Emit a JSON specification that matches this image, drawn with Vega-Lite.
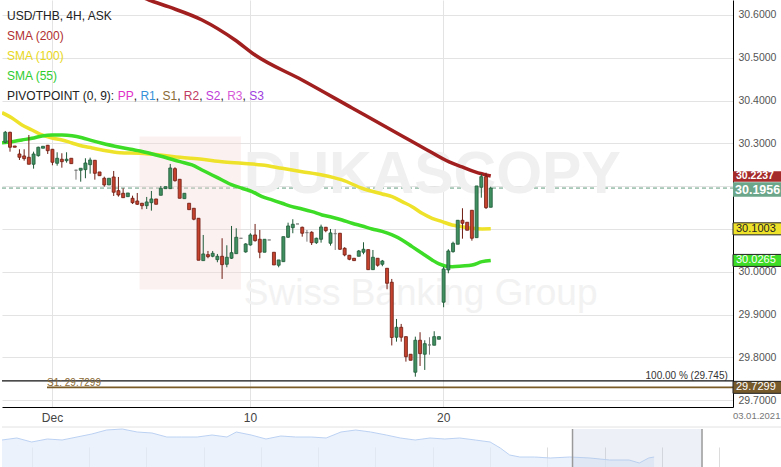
{
  "$schema": "https://vega.github.io/schema/vega-lite/v6.json",
  "padding": 0,
  "spacing": 20,
  "bounds": "flush",
  "background": "#ffffff",
  "config": {
    "font": "Liberation Sans",
    "view": {"stroke": null},
    "text": {"font": "Liberation Sans"}
  },
  "datasets": {
    "candles": [
      {"i":0,"o":30.3026,"h":30.3290,"l":30.3002,"c":30.3259,"d":"up"},
      {"i":1,"o":30.3259,"h":30.3273,"l":30.2806,"c":30.2909,"d":"down"},
      {"i":2,"o":30.2939,"h":30.2939,"l":30.2909,"c":30.2909,"d":"down"},
      {"i":3,"o":30.2752,"h":30.2862,"l":30.2612,"c":30.2675,"d":"down"},
      {"i":4,"o":30.2706,"h":30.2862,"l":30.2596,"c":30.2643,"d":"down"},
      {"i":5,"o":30.2675,"h":30.3196,"l":30.2512,"c":30.2512,"d":"down"},
      {"i":6,"o":30.2512,"h":30.2806,"l":30.2409,"c":30.2752,"d":"up"},
      {"i":7,"o":30.2713,"h":30.2923,"l":30.2689,"c":30.2909,"d":"up"},
      {"i":8,"o":30.2886,"h":30.2932,"l":30.2886,"c":30.2932,"d":"up"},
      {"i":9,"o":30.2956,"h":30.2963,"l":30.2752,"c":30.2829,"d":"down"},
      {"i":10,"o":30.2862,"h":30.2869,"l":30.2488,"c":30.2558,"d":"down"},
      {"i":11,"o":30.2535,"h":30.2792,"l":30.2479,"c":30.2652,"d":"up"},
      {"i":12,"o":30.2629,"h":30.2769,"l":30.2432,"c":30.2572,"d":"down"},
      {"i":13,"o":30.2596,"h":30.2792,"l":30.2549,"c":30.2629,"d":"up"},
      {"i":14,"o":30.2652,"h":30.2652,"l":30.2526,"c":30.2526,"d":"down"},
      {"i":15,"o":30.2372,"h":30.2386,"l":30.2152,"c":30.2372,"d":"flat"},
      {"i":16,"o":30.2372,"h":30.2418,"l":30.2105,"c":30.2418,"d":"up"},
      {"i":17,"o":30.2386,"h":30.2652,"l":30.2185,"c":30.2542,"d":"up"},
      {"i":18,"o":30.2502,"h":30.2666,"l":30.2292,"c":30.2612,"d":"up"},
      {"i":19,"o":30.2605,"h":30.2612,"l":30.2152,"c":30.2301,"d":"down"},
      {"i":20,"o":30.2332,"h":30.2332,"l":30.2245,"c":30.2245,"d":"down"},
      {"i":21,"o":30.2185,"h":30.2222,"l":30.1988,"c":30.2028,"d":"down"},
      {"i":22,"o":30.2028,"h":30.2185,"l":30.2028,"c":30.2185,"d":"up"},
      {"i":23,"o":30.2215,"h":30.2355,"l":30.1771,"c":30.1858,"d":"down"},
      {"i":24,"o":30.1895,"h":30.2215,"l":30.1755,"c":30.1794,"d":"down"},
      {"i":25,"o":30.1834,"h":30.1951,"l":30.1731,"c":30.1731,"d":"down"},
      {"i":26,"o":30.1755,"h":30.1841,"l":30.1755,"c":30.1841,"d":"up"},
      {"i":27,"o":30.1717,"h":30.1778,"l":30.1584,"c":30.1615,"d":"down"},
      {"i":28,"o":30.1654,"h":30.1841,"l":30.1561,"c":30.1577,"d":"down"},
      {"i":29,"o":30.1601,"h":30.1608,"l":30.1460,"c":30.1544,"d":"down"},
      {"i":30,"o":30.1544,"h":30.1748,"l":30.1467,"c":30.1631,"d":"up"},
      {"i":31,"o":30.1615,"h":30.1888,"l":30.1428,"c":30.1701,"d":"up"},
      {"i":32,"o":30.1701,"h":30.1701,"l":30.1577,"c":30.1577,"d":"down"},
      {"i":33,"o":30.1787,"h":30.2005,"l":30.1787,"c":30.1951,"d":"up"},
      {"i":34,"o":30.1942,"h":30.1988,"l":30.1942,"c":30.1988,"d":"up"},
      {"i":35,"o":30.1942,"h":30.2519,"l":30.1942,"c":30.2425,"d":"up"},
      {"i":36,"o":30.2409,"h":30.2442,"l":30.2105,"c":30.2129,"d":"down"},
      {"i":37,"o":30.2161,"h":30.2161,"l":30.1717,"c":30.1717,"d":"down"},
      {"i":38,"o":30.1708,"h":30.1834,"l":30.1708,"c":30.1834,"d":"up"},
      {"i":39,"o":30.1601,"h":30.1601,"l":30.1451,"c":30.1451,"d":"down"},
      {"i":40,"o":30.1484,"h":30.1484,"l":30.1203,"c":30.1227,"d":"down"},
      {"i":41,"o":30.1250,"h":30.1250,"l":30.0269,"c":30.0269,"d":"down"},
      {"i":42,"o":30.0260,"h":30.0860,"l":30.0260,"c":30.0416,"d":"up"},
      {"i":43,"o":30.0400,"h":30.0486,"l":30.0316,"c":30.0353,"d":"down"},
      {"i":44,"o":30.0362,"h":30.0486,"l":30.0339,"c":30.0432,"d":"up"},
      {"i":45,"o":30.0283,"h":30.0416,"l":30.0222,"c":30.0362,"d":"up"},
      {"i":46,"o":30.0362,"h":30.0783,"l":29.9832,"c":30.0166,"d":"down"},
      {"i":47,"o":30.0175,"h":30.0619,"l":30.0105,"c":30.0339,"d":"up"},
      {"i":48,"o":30.0316,"h":30.1070,"l":30.0299,"c":30.0446,"d":"up"},
      {"i":49,"o":30.0423,"h":30.1016,"l":30.0423,"c":30.0806,"d":"up"},
      {"i":50,"o":30.0783,"h":30.0783,"l":30.0783,"c":30.0783,"d":"flat"},
      {"i":51,"o":30.0463,"h":30.0666,"l":30.0446,"c":30.0650,"d":"up"},
      {"i":52,"o":30.0626,"h":30.0900,"l":30.0610,"c":30.0860,"d":"up"},
      {"i":53,"o":30.0860,"h":30.1117,"l":30.0703,"c":30.0727,"d":"down"},
      {"i":54,"o":30.0759,"h":30.0977,"l":30.0316,"c":30.0456,"d":"down"},
      {"i":55,"o":30.0456,"h":30.0759,"l":30.0456,"c":30.0759,"d":"up"},
      {"i":56,"o":30.0743,"h":30.0743,"l":30.0743,"c":30.0743,"d":"flat"},
      {"i":57,"o":30.0456,"h":30.0456,"l":30.0159,"c":30.0159,"d":"down"},
      {"i":58,"o":30.0152,"h":30.0276,"l":30.0105,"c":30.0276,"d":"up"},
      {"i":59,"o":30.0236,"h":30.0820,"l":30.0236,"c":30.0820,"d":"up"},
      {"i":60,"o":30.0806,"h":30.1147,"l":30.0790,"c":30.1070,"d":"up"},
      {"i":61,"o":30.1030,"h":30.1227,"l":30.0900,"c":30.1110,"d":"up"},
      {"i":62,"o":30.1117,"h":30.1117,"l":30.1117,"c":30.1117,"d":"flat"},
      {"i":63,"o":30.1040,"h":30.1054,"l":30.0820,"c":30.0900,"d":"down"},
      {"i":64,"o":30.0914,"h":30.0977,"l":30.0703,"c":30.0914,"d":"flat"},
      {"i":65,"o":30.0923,"h":30.0946,"l":30.0626,"c":30.0680,"d":"down"},
      {"i":66,"o":30.0680,"h":30.0797,"l":30.0650,"c":30.0783,"d":"up"},
      {"i":67,"o":30.0759,"h":30.1101,"l":30.0680,"c":30.1047,"d":"up"},
      {"i":68,"o":30.1040,"h":30.1047,"l":30.0923,"c":30.0960,"d":"down"},
      {"i":69,"o":30.0666,"h":30.1000,"l":30.0610,"c":30.0907,"d":"up"},
      {"i":70,"o":30.0890,"h":30.0993,"l":30.0509,"c":30.0890,"d":"flat"},
      {"i":71,"o":30.0900,"h":30.0907,"l":30.0509,"c":30.0526,"d":"down"},
      {"i":72,"o":30.0549,"h":30.0573,"l":30.0362,"c":30.0393,"d":"down"},
      {"i":73,"o":30.0386,"h":30.0393,"l":30.0269,"c":30.0292,"d":"down"},
      {"i":74,"o":30.0316,"h":30.0316,"l":30.0260,"c":30.0260,"d":"down"},
      {"i":75,"o":30.0362,"h":30.0509,"l":30.0362,"c":30.0486,"d":"up"},
      {"i":76,"o":30.0456,"h":30.0689,"l":30.0409,"c":30.0526,"d":"up"},
      {"i":77,"o":30.0517,"h":30.0517,"l":30.0049,"c":30.0049,"d":"down"},
      {"i":78,"o":30.0049,"h":30.0509,"l":30.0049,"c":30.0339,"d":"up"},
      {"i":79,"o":30.0316,"h":30.0316,"l":30.0119,"c":30.0152,"d":"down"},
      {"i":80,"o":30.0175,"h":30.0276,"l":30.0129,"c":30.0252,"d":"up"},
      {"i":81,"o":30.0082,"h":30.0082,"l":29.9591,"c":29.9731,"d":"down"},
      {"i":82,"o":29.9755,"h":29.9832,"l":29.8278,"c":29.8465,"d":"down"},
      {"i":83,"o":29.8470,"h":29.8897,"l":29.8367,"c":29.8703,"d":"up"},
      {"i":84,"o":29.8703,"h":29.8781,"l":29.8367,"c":29.8470,"d":"down"},
      {"i":85,"o":29.8484,"h":29.8484,"l":29.7900,"c":29.8016,"d":"down"},
      {"i":86,"o":29.8073,"h":29.8073,"l":29.7932,"c":29.7932,"d":"down"},
      {"i":87,"o":29.7652,"h":29.8484,"l":29.7549,"c":29.8400,"d":"up"},
      {"i":88,"o":29.8400,"h":29.8587,"l":29.7799,"c":29.8087,"d":"down"},
      {"i":89,"o":29.8073,"h":29.8400,"l":29.7706,"c":29.8320,"d":"up"},
      {"i":90,"o":29.8290,"h":29.8470,"l":29.8063,"c":29.8290,"d":"flat"},
      {"i":91,"o":29.8283,"h":29.8610,"l":29.8283,"c":29.8484,"d":"up"},
      {"i":92,"o":29.8423,"h":29.8484,"l":29.8423,"c":29.8484,"d":"up"},
      {"i":93,"o":29.9288,"h":30.0119,"l":29.9171,"c":30.0066,"d":"up"},
      {"i":94,"o":30.0042,"h":30.0526,"l":29.9965,"c":30.0486,"d":"up"},
      {"i":95,"o":30.0470,"h":30.0703,"l":30.0446,"c":30.0666,"d":"up"},
      {"i":96,"o":30.0643,"h":30.1203,"l":30.0643,"c":30.1203,"d":"up"},
      {"i":97,"o":30.1203,"h":30.1484,"l":30.0773,"c":30.1133,"d":"down"},
      {"i":98,"o":30.1157,"h":30.1157,"l":30.0970,"c":30.0970,"d":"down"},
      {"i":99,"o":30.1437,"h":30.1437,"l":30.0727,"c":30.0783,"d":"down"},
      {"i":100,"o":30.0797,"h":30.2005,"l":30.0797,"c":30.2005,"d":"up"},
      {"i":101,"o":30.1974,"h":30.2285,"l":30.1731,"c":30.2222,"d":"up"},
      {"i":102,"o":30.2222,"h":30.2316,"l":30.1467,"c":30.1498,"d":"down"},
      {"i":103,"o":30.1507,"h":30.1988,"l":30.1507,"c":30.1956,"d":"up"}
    ],
    "sma200": [
      {"i":24.77,"v":30.6631},{"i":30.5,"v":30.6350},{"i":34.74,"v":30.6187},{"i":41.74,"v":30.5883},
      {"i":48.75,"v":30.5416},{"i":52.99,"v":30.5065},{"i":62.97,"v":30.4481},{"i":73.58,"v":30.3827},
      {"i":84.19,"v":30.3173},{"i":89.5,"v":30.2846},{"i":94.17,"v":30.2566},{"i":96.92,"v":30.2449},
      {"i":99.68,"v":30.2332},{"i":103,"v":30.2237}
    ],
    "sma100": [
      {"i":-0.7,"v":30.3717},{"i":1.42,"v":30.3593},{"i":3.54,"v":30.3430},{"i":5.67,"v":30.3313},
      {"i":7.79,"v":30.3196},{"i":9.91,"v":30.3126},{"i":12.03,"v":30.3080},{"i":14.16,"v":30.3009},
      {"i":16.28,"v":30.2939},{"i":18.4,"v":30.2893},{"i":20.52,"v":30.2846},{"i":24.34,"v":30.2783},
      {"i":28.59,"v":30.2769},{"i":32.83,"v":30.2729},{"i":37.08,"v":30.2675},{"i":41.74,"v":30.2629},
      {"i":45.99,"v":30.2572},{"i":50.23,"v":30.2535},{"i":54.48,"v":30.2495},{"i":58.72,"v":30.2418},
      {"i":62.97,"v":30.2339},{"i":67.21,"v":30.2262},{"i":71.46,"v":30.2145},{"i":75.7,"v":30.1951},
      {"i":79.95,"v":30.1818},{"i":82.07,"v":30.1755},{"i":84.19,"v":30.1638},{"i":86.31,"v":30.1521},
      {"i":88.43,"v":30.1367},{"i":90.56,"v":30.1250},{"i":92.68,"v":30.1171},{"i":94.8,"v":30.1094},
      {"i":96.92,"v":30.1054},{"i":99.05,"v":30.1016},{"i":101.17,"v":30.1000},{"i":103,"v":30.1003}
    ],
    "sma55": [
      {"i":-0.7,"v":30.3016},{"i":1.42,"v":30.3040},{"i":3.54,"v":30.3080},{"i":5.67,"v":30.3119},
      {"i":7.79,"v":30.3173},{"i":9.91,"v":30.3196},{"i":12.03,"v":30.3196},{"i":14.16,"v":30.3180},
      {"i":16.28,"v":30.3133},{"i":18.4,"v":30.3063},{"i":20.52,"v":30.3002},{"i":24.34,"v":30.2909},
      {"i":28.59,"v":30.2822},{"i":32.83,"v":30.2706},{"i":37.08,"v":30.2572},{"i":39.62,"v":30.2495},
      {"i":41.74,"v":30.2379},{"i":43.86,"v":30.2262},{"i":45.99,"v":30.2145},{"i":48.11,"v":30.2028},
      {"i":50.23,"v":30.1951},{"i":52.36,"v":30.1872},{"i":54.48,"v":30.1755},{"i":56.6,"v":30.1678},
      {"i":58.72,"v":30.1601},{"i":60.84,"v":30.1521},{"i":62.97,"v":30.1467},{"i":65.09,"v":30.1404},
      {"i":67.21,"v":30.1327},{"i":69.33,"v":30.1273},{"i":71.46,"v":30.1210},{"i":73.58,"v":30.1133},
      {"i":75.7,"v":30.1070},{"i":77.82,"v":30.1000},{"i":79.95,"v":30.0942},{"i":82.07,"v":30.0860},
      {"i":84.19,"v":30.0743},{"i":86.31,"v":30.0587},{"i":88.43,"v":30.0432},{"i":90.56,"v":30.0276},
      {"i":92.04,"v":30.0182},{"i":93.32,"v":30.0136},{"i":94.8,"v":30.0119},{"i":96.92,"v":30.0136},
      {"i":99.05,"v":30.0159},{"i":101.17,"v":30.0236},{"i":103,"v":30.0265}
    ],
    "nav": [
      {"t":0,"v":27},{"t":1.9,"v":29},{"t":3.8,"v":25},{"t":5.8,"v":28},{"t":7.7,"v":27},{"t":9.6,"v":30},
      {"t":11.5,"v":33},{"t":13.4,"v":37},{"t":15.4,"v":38},{"t":17.3,"v":35},{"t":19.2,"v":34},{"t":21.1,"v":30},
      {"t":23.0,"v":30},{"t":25.0,"v":30},{"t":26.9,"v":32},{"t":28.8,"v":30},{"t":30.0,"v":35},{"t":31.9,"v":32},
      {"t":33.8,"v":28},{"t":35.7,"v":31},{"t":37.6,"v":30},{"t":39.6,"v":30},{"t":41.5,"v":29},{"t":43.4,"v":35},
      {"t":45.3,"v":37},{"t":47.2,"v":35},{"t":49.2,"v":32},{"t":51.0,"v":29},{"t":52.9,"v":27},{"t":54.8,"v":29},
      {"t":56.7,"v":28},{"t":58.6,"v":29},{"t":60.6,"v":27},{"t":62.5,"v":25},{"t":63.8,"v":19},{"t":65.0,"v":12},
      {"t":66.3,"v":10},{"t":68.2,"v":10},{"t":70.2,"v":9},{"t":72.7,"v":10},{"t":75.3,"v":9},{"t":77.8,"v":7},
      {"t":80.3,"v":7},{"t":81.6,"v":4},{"t":82.8,"v":9},{"t":83.5,"v":10}
    ]
  },
  "vconcat": [
    {
      "width": 731,
      "height": 407,
      "layer": [
        {
          "data": {"values": [{"p": 30.1956}]},
          "mark": {"type": "rule", "color": "#5f9c7c", "strokeWidth": 1, "strokeDash": [4, 3]},
          "encoding": {
            "x": {"datum": -0.7, "type": "quantitative", "scale": {"domain": [-0.7, 154.4], "nice": false, "zero": false, "padding": 0},
              "axis": {"values": [9.91, 51.9, 92.9], "labelExpr": "datum.value < 30 ? 'Dec' : (datum.value < 70 ? '10' : '20')", "grid": true, "gridColor": "#e3e3e3", "ticks": false, "domainColor": "#000000", "domainWidth": 1, "labelFontSize": 12, "labelColor": "#444444", "labelPadding": 5, "title": null}},
            "x2": {"datum": 154.4},
            "y": {"field": "p", "type": "quantitative", "scale": {"domain": [29.684, 30.635], "nice": false, "zero": false, "padding": 0},
              "axis": {"orient": "right", "values": [29.7, 29.8, 29.9, 30.0, 30.1, 30.2, 30.3, 30.4, 30.5, 30.6], "format": ".4f", "labelExpr": "abs(datum.value - 30.1) < 0.001 || abs(datum.value - 30.2) < 0.001 ? '' : datum.label", "grid": true, "gridColor": "#e3e3e3", "ticks": false, "domainColor": "#000000", "domainWidth": 1, "labelFontSize": 10.5, "labelColor": "#555555", "labelPadding": 5, "title": null}}
          }
        },
        {
          "data": {"values": [{"a": 1}]},
          "mark": {"type": "rect", "color": "#f6d6d6", "opacity": 0.35},
          "encoding": {"x": {"datum": 28.5, "type": "quantitative"}, "x2": {"datum": 50.0}, "y": {"datum": 30.3160, "type": "quantitative"}, "y2": {"datum": 29.9586}}
        },
        {
          "data": {"values": [{"label": "DUKASCOPY"}]},
          "mark": {"type": "text", "align": "left", "baseline": "alphabetic", "fontSize": 59, "fontWeight": "bold", "color": "#f0f0f0"},
          "encoding": {"x": {"datum": 50.6, "type": "quantitative"}, "y": {"datum": 30.1841, "type": "quantitative"}, "text": {"field": "label"}}
        },
        {
          "data": {"values": [{"label": "Swiss Banking Group"}]},
          "mark": {"type": "text", "align": "left", "baseline": "alphabetic", "fontSize": 37, "color": "#f2f2f2"},
          "encoding": {"x": {"datum": 50.6, "type": "quantitative"}, "y": {"datum": 29.9225, "type": "quantitative"}, "text": {"field": "label"}}
        },
        {
          "data": {"values": [{"p": 29.745}]},
          "mark": {"type": "rule", "color": "#111111", "strokeWidth": 1.3},
          "encoding": {"y": {"field": "p", "type": "quantitative"}}
        },
        {
          "data": {"values": [{"p": 29.7299}]},
          "mark": {"type": "rule", "color": "#7a5a25", "strokeWidth": 1.6},
          "encoding": {"x": {"datum": 8.85, "type": "quantitative"}, "x2": {"datum": 154.4}, "y": {"field": "p", "type": "quantitative"}}
        },
        {
          "data": {"name": "sma200"},
          "mark": {"type": "line", "color": "#a11f1f", "strokeWidth": 3.5, "clip": true, "interpolate": "monotone"},
          "encoding": {"x": {"field": "i", "type": "quantitative"}, "y": {"field": "v", "type": "quantitative"}}
        },
        {
          "data": {"name": "sma100"},
          "mark": {"type": "line", "color": "#eee22a", "strokeWidth": 3.5, "clip": true, "interpolate": "monotone"},
          "encoding": {"x": {"field": "i", "type": "quantitative"}, "y": {"field": "v", "type": "quantitative"}}
        },
        {
          "data": {"name": "sma55"},
          "mark": {"type": "line", "color": "#3ddc26", "strokeWidth": 3.5, "clip": true, "interpolate": "monotone"},
          "encoding": {"x": {"field": "i", "type": "quantitative"}, "y": {"field": "v", "type": "quantitative"}}
        },
        {
          "data": {"name": "candles"},
          "mark": {"type": "rule", "strokeWidth": 1},
          "encoding": {
            "x": {"field": "i", "type": "quantitative"},
            "y": {"field": "l", "type": "quantitative"},
            "y2": {"field": "h"},
            "color": {"field": "d", "type": "nominal", "legend": null, "scale": {"domain": ["up", "down", "flat"], "range": ["#1f5a38", "#6e1c12", "#7a7a7a"]}}
          }
        },
        {
          "data": {"name": "candles"},
          "mark": {"type": "bar", "width": 3, "strokeWidth": 0.8},
          "encoding": {
            "x": {"field": "i", "type": "quantitative"},
            "y": {"field": "o", "type": "quantitative"},
            "y2": {"field": "c"},
            "fill": {"field": "d", "type": "nominal", "legend": null, "scale": {"domain": ["up", "down", "flat"], "range": ["#3f8f60", "#c5432e", "#8a8a8a"]}},
            "stroke": {"field": "d", "type": "nominal", "legend": null, "scale": {"domain": ["up", "down", "flat"], "range": ["#1f5a38", "#6e1c12", "#7a7a7a"]}}
          }
        },
        {
          "data": {"values": [{"label": "USD/THB, 4H, ASK"}]},
          "mark": {"type": "text", "align": "left", "baseline": "alphabetic", "fontSize": 12, "color": "#222222"},
          "encoding": {"x": {"datum": 0.361, "type": "quantitative"}, "y": {"datum": 30.5883, "type": "quantitative"}, "text": {"field": "label"}}
        },
        {
          "data": {"values": [{"label": "SMA (200)"}]},
          "mark": {"type": "text", "align": "left", "baseline": "alphabetic", "fontSize": 12, "color": "#b03030"},
          "encoding": {"x": {"datum": 0.361, "type": "quantitative"}, "y": {"datum": 30.5416, "type": "quantitative"}, "text": {"field": "label"}}
        },
        {
          "data": {"values": [{"label": "SMA (100)"}]},
          "mark": {"type": "text", "align": "left", "baseline": "alphabetic", "fontSize": 12, "color": "#e8d820"},
          "encoding": {"x": {"datum": 0.361, "type": "quantitative"}, "y": {"datum": 30.4949, "type": "quantitative"}, "text": {"field": "label"}}
        },
        {
          "data": {"values": [{"label": "SMA (55)"}]},
          "mark": {"type": "text", "align": "left", "baseline": "alphabetic", "fontSize": 12, "color": "#2ecc2e"},
          "encoding": {"x": {"datum": 0.361, "type": "quantitative"}, "y": {"datum": 30.4481, "type": "quantitative"}, "text": {"field": "label"}}
        },
        {
          "data": {"values": [{"label": "PIVOTPOINT (0, 9):"}]},
          "mark": {"type": "text", "align": "left", "baseline": "alphabetic", "fontSize": 12, "color": "#222222"},
          "encoding": {"x": {"datum": 0.361, "type": "quantitative"}, "y": {"datum": 30.4014, "type": "quantitative"}, "text": {"field": "label"}}
        },
        {
          "data": {"values": [{"label": "PP"}]},
          "mark": {"type": "text", "align": "left", "baseline": "alphabetic", "fontSize": 12, "color": "#e030c8"},
          "encoding": {"x": {"datum": 23.854, "type": "quantitative"}, "y": {"datum": 30.4014, "type": "quantitative"}, "text": {"field": "label"}}
        },
        {
          "data": {"values": [{"label": "R1"}]},
          "mark": {"type": "text", "align": "left", "baseline": "alphabetic", "fontSize": 12, "color": "#3590d8"},
          "encoding": {"x": {"datum": 28.672, "type": "quantitative"}, "y": {"datum": 30.4014, "type": "quantitative"}, "text": {"field": "label"}}
        },
        {
          "data": {"values": [{"label": "S1"}]},
          "mark": {"type": "text", "align": "left", "baseline": "alphabetic", "fontSize": 12, "color": "#8a6a35"},
          "encoding": {"x": {"datum": 33.341, "type": "quantitative"}, "y": {"datum": 30.4014, "type": "quantitative"}, "text": {"field": "label"}}
        },
        {
          "data": {"values": [{"label": "R2"}]},
          "mark": {"type": "text", "align": "left", "baseline": "alphabetic", "fontSize": 12, "color": "#c03a62"},
          "encoding": {"x": {"datum": 37.861, "type": "quantitative"}, "y": {"datum": 30.4014, "type": "quantitative"}, "text": {"field": "label"}}
        },
        {
          "data": {"values": [{"label": "S2"}]},
          "mark": {"type": "text", "align": "left", "baseline": "alphabetic", "fontSize": 12, "color": "#c03cd8"},
          "encoding": {"x": {"datum": 42.551, "type": "quantitative"}, "y": {"datum": 30.4014, "type": "quantitative"}, "text": {"field": "label"}}
        },
        {
          "data": {"values": [{"label": "R3"}]},
          "mark": {"type": "text", "align": "left", "baseline": "alphabetic", "fontSize": 12, "color": "#d85ad8"},
          "encoding": {"x": {"datum": 47.071, "type": "quantitative"}, "y": {"datum": 30.4014, "type": "quantitative"}, "text": {"field": "label"}}
        },
        {
          "data": {"values": [{"label": "S3"}]},
          "mark": {"type": "text", "align": "left", "baseline": "alphabetic", "fontSize": 12, "color": "#a040e0"},
          "encoding": {"x": {"datum": 51.74, "type": "quantitative"}, "y": {"datum": 30.4014, "type": "quantitative"}, "text": {"field": "label"}}
        },
        {
          "data": {"values": [{"label": ","}]},
          "mark": {"type": "text", "align": "left", "baseline": "alphabetic", "fontSize": 12, "color": "#222222"},
          "encoding": {"x": {"datum": 27.25, "type": "quantitative"}, "y": {"datum": 30.4014, "type": "quantitative"}, "text": {"field": "label"}}
        },
        {
          "data": {"values": [{"label": ","}]},
          "mark": {"type": "text", "align": "left", "baseline": "alphabetic", "fontSize": 12, "color": "#222222"},
          "encoding": {"x": {"datum": 31.919, "type": "quantitative"}, "y": {"datum": 30.4014, "type": "quantitative"}, "text": {"field": "label"}}
        },
        {
          "data": {"values": [{"label": ","}]},
          "mark": {"type": "text", "align": "left", "baseline": "alphabetic", "fontSize": 12, "color": "#222222"},
          "encoding": {"x": {"datum": 36.46, "type": "quantitative"}, "y": {"datum": 30.4014, "type": "quantitative"}, "text": {"field": "label"}}
        },
        {
          "data": {"values": [{"label": ","}]},
          "mark": {"type": "text", "align": "left", "baseline": "alphabetic", "fontSize": 12, "color": "#222222"},
          "encoding": {"x": {"datum": 41.129, "type": "quantitative"}, "y": {"datum": 30.4014, "type": "quantitative"}, "text": {"field": "label"}}
        },
        {
          "data": {"values": [{"label": ","}]},
          "mark": {"type": "text", "align": "left", "baseline": "alphabetic", "fontSize": 12, "color": "#222222"},
          "encoding": {"x": {"datum": 45.671, "type": "quantitative"}, "y": {"datum": 30.4014, "type": "quantitative"}, "text": {"field": "label"}}
        },
        {
          "data": {"values": [{"label": ","}]},
          "mark": {"type": "text", "align": "left", "baseline": "alphabetic", "fontSize": 12, "color": "#222222"},
          "encoding": {"x": {"datum": 50.34, "type": "quantitative"}, "y": {"datum": 30.4014, "type": "quantitative"}, "text": {"field": "label"}}
        },
        {
          "data": {"values": [{"label": "S1: 29.7299"}]},
          "mark": {"type": "text", "align": "left", "baseline": "alphabetic", "fontSize": 10, "color": "#8a6a35"},
          "encoding": {"x": {"datum": 8.85, "type": "quantitative"}, "y": {"datum": 29.732, "type": "quantitative"}, "text": {"field": "label"}}
        },
        {
          "data": {"values": [{"label": "100.00 % (29.745)"}]},
          "mark": {"type": "text", "align": "right", "baseline": "alphabetic", "fontSize": 10, "color": "#333333"},
          "encoding": {"x": {"datum": 153.3, "type": "quantitative"}, "y": {"datum": 29.7484, "type": "quantitative"}, "text": {"field": "label"}}
        },
        {
          "data": {"values": [{"label": "03.01.2021"}]},
          "mark": {"type": "text", "align": "center", "baseline": "middle", "fontSize": 9.5, "color": "#777777"},
          "encoding": {"x": {"datum": 159.42, "type": "quantitative"}, "y": {"datum": 29.662, "type": "quantitative"}, "text": {"field": "label"}}
        },
        {
          "data": {"values": [{"p": 30.2237}]},
          "mark": {"type": "bar", "height": 10.5, "yOffset": 0.5, "color": "#a52a2a"},
          "encoding": {"x": {"datum": 154.4, "type": "quantitative"}, "x2": {"datum": 164.9}, "y": {"field": "p", "type": "quantitative"}}
        },
        {
          "data": {"values": [{"p": 30.2237}]},
          "mark": {"type": "text", "align": "left", "baseline": "middle", "dx": 3, "dy": 0, "fontSize": 10.5, "fontWeight": "bold", "color": "#ffffff"},
          "encoding": {"x": {"datum": 154.4, "type": "quantitative"}, "y": {"field": "p", "type": "quantitative"}, "text": {"field": "p", "format": ".4f"}}
        },
        {
          "data": {"values": [{"p": 30.1956}]},
          "mark": {"type": "bar", "height": 14.5, "yOffset": 1.4, "color": "#6ba58a"},
          "encoding": {"x": {"datum": 154.4, "type": "quantitative"}, "x2": {"datum": 164.9}, "y": {"field": "p", "type": "quantitative"}}
        },
        {
          "data": {"values": [{"p": 30.1956}]},
          "mark": {"type": "text", "align": "left", "baseline": "middle", "dx": 2, "dy": 1.6, "fontSize": 12.5, "fontWeight": "bold", "color": "#ffffff"},
          "encoding": {"x": {"datum": 154.4, "type": "quantitative"}, "y": {"field": "p", "type": "quantitative"}, "text": {"field": "p", "format": ".4f"}}
        },
        {
          "data": {"values": [{"p": 30.1003}]},
          "mark": {"type": "bar", "height": 12, "color": "#efe22a", "stroke": "#222222", "strokeWidth": 1},
          "encoding": {"x": {"datum": 154.4, "type": "quantitative"}, "x2": {"datum": 164.9}, "y": {"field": "p", "type": "quantitative"}}
        },
        {
          "data": {"values": [{"p": 30.1003}]},
          "mark": {"type": "text", "align": "left", "baseline": "middle", "dx": 3, "fontSize": 11, "color": "#222222"},
          "encoding": {"x": {"datum": 154.4, "type": "quantitative"}, "y": {"field": "p", "type": "quantitative"}, "text": {"field": "p", "format": ".4f"}}
        },
        {
          "data": {"values": [{"p": 30.0265}]},
          "mark": {"type": "bar", "height": 12, "color": "#3ddc26", "stroke": "#222222", "strokeWidth": 1},
          "encoding": {"x": {"datum": 154.4, "type": "quantitative"}, "x2": {"datum": 164.9}, "y": {"field": "p", "type": "quantitative"}}
        },
        {
          "data": {"values": [{"p": 30.0265}]},
          "mark": {"type": "text", "align": "left", "baseline": "middle", "dx": 3, "fontSize": 11, "color": "#ffffff"},
          "encoding": {"x": {"datum": 154.4, "type": "quantitative"}, "y": {"field": "p", "type": "quantitative"}, "text": {"field": "p", "format": ".4f"}}
        },
        {
          "data": {"values": [{"p": 29.7299}]},
          "mark": {"type": "bar", "height": 12, "color": "#765a2c", "stroke": "#222222", "strokeWidth": 1},
          "encoding": {"x": {"datum": 154.4, "type": "quantitative"}, "x2": {"datum": 164.9}, "y": {"field": "p", "type": "quantitative"}}
        },
        {
          "data": {"values": [{"p": 29.7299}]},
          "mark": {"type": "text", "align": "left", "baseline": "middle", "dx": 3, "fontSize": 11, "color": "#ffffff"},
          "encoding": {"x": {"datum": 154.4, "type": "quantitative"}, "y": {"field": "p", "type": "quantitative"}, "text": {"field": "p", "format": ".4f"}}
        }
      ]
    },
    {
      "width": 781,
      "height": 40,
      "layer": [
        {
          "data": {"name": "nav"},
          "mark": {"type": "area", "color": "#e4edfb", "line": {"color": "#bcd2f3", "strokeWidth": 1}},
          "encoding": {
            "x": {"field": "t", "type": "quantitative", "scale": {"domain": [0, 100], "nice": false, "zero": false, "padding": 0},
              "axis": {"orient": "bottom", "values": [3.84, 7.62, 11.2, 14.98, 18.44, 22.28, 25.86, 29.58, 33.16, 37.0, 40.46, 44.3, 47.76, 51.6, 55.19, 58.9, 62.48, 66.33, 69.78, 73.62, 77.21, 80.92, 84.51, 88.35, 91.81, 95.65], "labels": false, "domain": false, "grid": false, "ticks": true, "tickSize": -20, "tickColor": "#dcdcdc", "title": null}},
            "y": {"field": "v", "type": "quantitative", "scale": {"domain": [0, 40], "nice": false, "zero": false, "padding": 0}, "axis": null}
          }
        },
        {
          "data": {"values": [{"a": 1}]},
          "mark": {"type": "rect", "color": "#b8c8e0", "opacity": 0.25},
          "encoding": {"x": {"datum": 73.05, "type": "quantitative"}, "x2": {"datum": 89.63}, "y": {"datum": 0, "type": "quantitative"}, "y2": {"datum": 38}}
        },
        {
          "data": {"values": [{"a": 1}]},
          "mark": {"type": "rule", "color": "#9a9a9a", "strokeWidth": 1.5},
          "encoding": {"x": {"datum": 73.05, "type": "quantitative"}, "y": {"datum": 0, "type": "quantitative"}, "y2": {"datum": 38}}
        },
        {
          "data": {"values": [{"a": 1}]},
          "mark": {"type": "rule", "color": "#9a9a9a", "strokeWidth": 1.5},
          "encoding": {"x": {"datum": 89.63, "type": "quantitative"}, "y": {"datum": 0, "type": "quantitative"}, "y2": {"datum": 38}}
        },
        {
          "data": {"values": [{"a": 1}]},
          "mark": {"type": "rule", "color": "#e2e2e2", "strokeWidth": 1},
          "encoding": {"y": {"datum": 40, "type": "quantitative"}}
        }
      ]
    }
  ]
}
